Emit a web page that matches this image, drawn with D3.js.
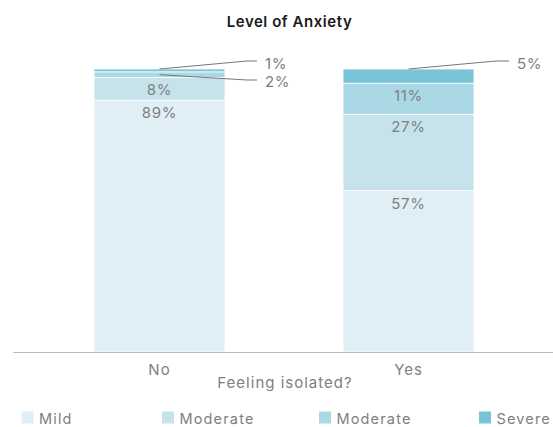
<!DOCTYPE html>
<html><head><meta charset="utf-8">
<script src="https://cdn.jsdelivr.net/npm/d3@7"></script>
<style>body{margin:0;background:#fff;} text{font-family:Inter, "Open Sans", sans-serif;}</style>
</head><body>
<svg id="c" width="553" height="427"></svg>
<script>
const categories = ["No", "Yes"];
const seriesNames = ["Mild", "Moderate", "Moderate", "Severe"];
const seriesKeys = ["mild", "moderate1", "moderate2", "severe"];
const mildValues = [89, 57];
const moderate1Values = [8, 27];
const moderate2Values = [2, 11];
const severeValues = [1, 5];
const colors = ["#e0eff5", "#c6e3ec", "#aad8e5", "#78c4d9"];

const svg = d3.select("#c");
const gray = "#808080";
const FONT = "Inter, 'Open Sans', sans-serif";

const rows = categories.map((c, i) => ({
  cat: c, mild: mildValues[i], moderate1: moderate1Values[i],
  moderate2: moderate2Values[i], severe: severeValues[i]
}));
const stacked = d3.stack().keys(seriesKeys)(rows);

const x = d3.scaleBand().domain(categories).range([35, 533]).paddingInner(0.474).paddingOuter(0.237);
const y = d3.scaleLinear().domain([0, 100]).range([352, 69]);

// title
svg.append("text").attr("x", 289.5).attr("y", 26.5).attr("text-anchor", "middle")
  .attr("font-size", 15).attr("font-weight", 600).attr("letter-spacing", 0.55)
  .attr("fill", "#1a1a1a").text("Level of Anxiety");

// bars
stacked.forEach((layer, li) => {
  svg.append("g").selectAll("rect").data(layer).join("rect")
    .attr("x", d => x(d.data.cat))
    .attr("width", x.bandwidth())
    .attr("y", d => y(d[1]))
    .attr("height", d => y(d[0]) - y(d[1]))
    .attr("fill", colors[li])
    .attr("stroke", "#fff").attr("stroke-width", 0.8);
});

// labels
stacked.forEach((layer, li) => {
  layer.forEach((d, ci) => {
    const v = d[1] - d[0];
    const cx = x(d.data.cat) + x.bandwidth() / 2;
    if (v >= 8) {
      svg.append("text").attr("x", cx).attr("y", y(d[1]) + 18)
        .attr("text-anchor", "middle").attr("font-size", 15).attr("letter-spacing", 0.7)
        .attr("fill", gray).text(v + "%");
    } else {
      const isTop = li === seriesKeys.length - 1;
      const sy = isTop ? y(d[1]) : y((d[0] + d[1]) / 2);
      const ly = isTop ? 61 : 80;
      const x1 = x(d.data.cat) + x.bandwidth() + 22;
      const x2 = x1 + (d.data.cat === "Yes" ? 13 : 10);
      svg.append("path")
        .attr("d", `M${cx},${sy}L${x1},${ly}L${x2},${ly}`)
        .attr("fill", "none").attr("stroke", "#777").attr("stroke-width", 1);
      svg.append("text").attr("x", x2 + 8).attr("y", ly + (isTop ? 8 : 7))
        .attr("font-size", 15).attr("letter-spacing", 0.7).attr("fill", gray).text(v + "%");
    }
  });
});

// axis
const xAxis = svg.append("g").attr("transform", "translate(0,352)")
  .call(d3.axisBottom(x).tickSize(0).tickPadding(12.5));
xAxis.select(".domain").remove();
xAxis.selectAll("text").attr("font-size", 15).attr("letter-spacing", 1).attr("fill", gray).attr("font-family", FONT);
svg.append("line").attr("x1", 13).attr("x2", 553).attr("y1", 352.5).attr("y2", 352.5)
  .attr("stroke", "#bbb").attr("stroke-width", 1.2);

svg.append("text").attr("x", 285).attr("y", 388).attr("text-anchor", "middle")
  .attr("font-size", 15).attr("letter-spacing", 1).attr("fill", gray).text("Feeling isolated?");

// legend
const legendX = [21.5, 162, 319, 479];
const lg = svg.append("g").selectAll("g").data(seriesNames).join("g")
  .attr("transform", (d, i) => `translate(${legendX[i]},411.5)`);
lg.append("rect").attr("width", 12).attr("height", 12).attr("fill", (d, i) => colors[i]);
lg.append("text").attr("x", 17.5).attr("y", 12).attr("font-size", 14.5).attr("letter-spacing", 1.15)
  .attr("fill", gray).text(d => d);
</script>
</body></html>
